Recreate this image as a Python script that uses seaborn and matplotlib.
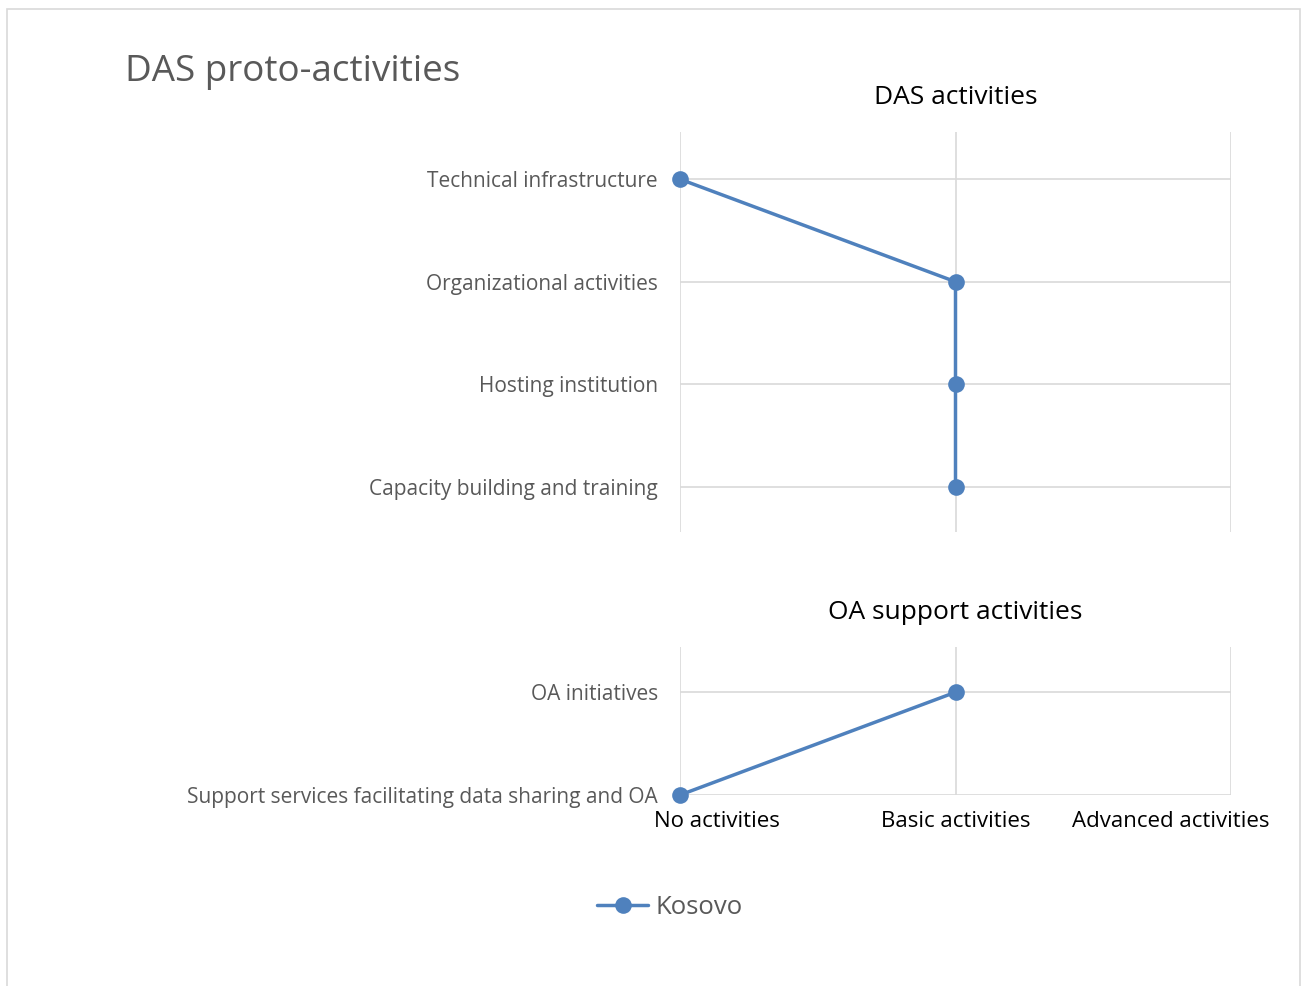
#!/usr/bin/env python3
import pandas as pd
import seaborn as sns
import matplotlib.pyplot as plt
from matplotlib.lines import Line2D
from matplotlib.patches import Rectangle

# data
levels = ["No activities", "Basic activities", "Advanced activities"]
das_items = ["Technical infrastructure", "Organizational activities",
             "Hosting institution", "Capacity building and training"]
das_kosovo = [0, 1, 1, 1]
oa_items = ["OA initiatives", "Support services facilitating data sharing and OA"]
oa_kosovo = [1, 0]

BLUE = "#4f81bd"
GRID = "#d9d9d9"
GRAY = "#595959"

sns.set_style("white")
plt.rcParams["font.family"] = ["Open Sans", "DejaVu Sans"]

fig = plt.figure(figsize=(13.02, 9.86), dpi=100)
fig.patches.append(Rectangle((7 / 1302, -0.01), 1293 / 1302, 1 - 9 / 986 + 0.01,
                             transform=fig.transFigure, fill=False,
                             edgecolor=GRID, lw=1.2))

ax1 = fig.add_axes([680 / 1302, 1 - 532 / 986, 551 / 1302, 400 / 986])
ax2 = fig.add_axes([680 / 1302, 1 - 795 / 986, 551 / 1302, 148 / 986])


def panel(ax, items, vals, title, ylim):
    df = pd.DataFrame({"item": items, "pos": range(len(items)), "level": vals})
    sns.lineplot(data=df, x="level", y="pos", estimator=None, sort=False,
                 color=BLUE, lw=2.5, marker="o", markersize=12,
                 markeredgewidth=0, ax=ax, clip_on=False, zorder=5)
    ax.set_xlim(0, 2)
    ax.set_ylim(*ylim)
    ax.set_yticks(range(len(items)))
    ax.set_yticklabels(items, fontsize=15, color=GRAY)
    ax.set_xticks([0, 1, 2])
    ax.set_xticklabels([])
    ax.tick_params(length=0, pad=16)
    ax.grid(True, color=GRID, lw=1.2)
    ax.set_axisbelow(True)
    for s in ax.spines.values():
        s.set_visible(False)
    ax.set_xlabel("")
    ax.set_ylabel("")
    ax.set_title(title, fontsize=19, color="black", pad=20)
    if ax.get_legend():
        ax.get_legend().remove()


panel(ax1, das_items, das_kosovo, "DAS activities", (3.44, -0.46))
panel(ax2, oa_items, oa_kosovo, "OA support activities", (1.0, -0.44))

# x labels placed like the original (first and last pulled inward)
lab_x = [0.134, 1.0, 1.782]
for x, t in zip(lab_x, levels):
    ax2.text(x, 1.26, t, ha="center", va="center", fontsize=16,
             color="black")

fig.text(125 / 1302, 1 - 72 / 986, "DAS proto-activities", fontsize=26.5,
         color=GRAY, ha="left", va="center")

handle = Line2D([], [], color=BLUE, lw=2.5, marker="o", markersize=12,
                markeredgewidth=0)
fig.legend([handle], ["Kosovo"], loc="center",
           bbox_to_anchor=(670 / 1302, 1 - 907 / 986), frameon=False,
           fontsize=18.5, labelcolor=GRAY, handlelength=2.0, handletextpad=0.3)

fig.savefig("out.png", dpi=100)
